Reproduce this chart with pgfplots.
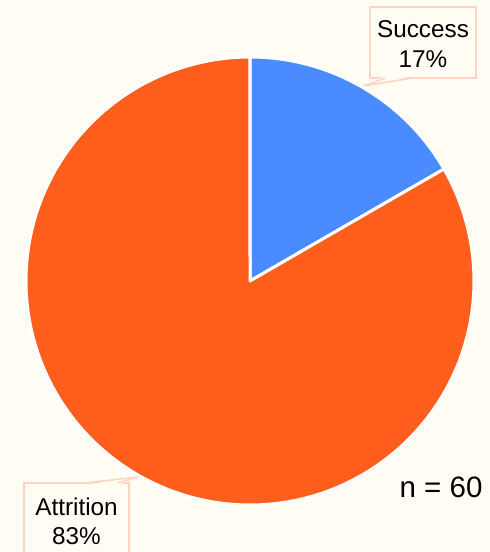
\documentclass[border=0pt]{standalone}
\usepackage{pgfplots}
\pgfplotsset{compat=1.18}
\usepackage{fontspec}
\setmainfont{Liberation Sans}
\definecolor{bg}{HTML}{FFFDF4}
\definecolor{sblue}{HTML}{4A8CFF}
\definecolor{sorange}{HTML}{FF5E1C}
\definecolor{boxc}{HTML}{FFD4C2}
% counts
\def\nSuccess{10}
\def\nAttrition{50}
\def\nTotal{60}
\begin{document}
\begin{tikzpicture}
\pgfmathsetmacro{\aS}{90-\nSuccess/\nTotal*360}
\pgfmathsetmacro{\aA}{\aS-\nAttrition/\nTotal*360}
\begin{axis}[
  scale only axis, width=490pt, height=552pt,
  xmin=0, xmax=490, ymin=0, ymax=552,
  hide axis, clip=true,
]
\fill[bg] (axis cs:0,0) rectangle (axis cs:490,552);
% slices
\addplot[fill=sblue, draw=white, line width=3pt, line join=round, domain=\aS:90, samples=80]
  ({250+224*cos(x)},{271+224*sin(x)}) -- (axis cs:250,271) -- cycle;
\addplot[fill=sorange, draw=white, line width=3pt, line join=round, domain=\aA:\aS, samples=200]
  ({250+224*cos(x)},{271+224*sin(x)}) -- (axis cs:250,271) -- cycle;
% Success callout
\draw[boxc, line width=1.5pt, fill=bg] (axis cs:370,474) rectangle (axis cs:476,545);
\fill[bg] (axis cs:386,476) -- (axis cs:363,466) -- (axis cs:413,476) -- cycle;
\draw[boxc, line width=1.5pt] (axis cs:386,474) -- (axis cs:363,466) -- (axis cs:413,474);
\node[anchor=base, font=\fontsize{24.3}{28}\selectfont] at (axis cs:423,514) {Success};
\node[anchor=base, font=\fontsize{24.3}{28}\selectfont] at (axis cs:423,484) {17\%};
% Attrition callout
\draw[boxc, line width=1.5pt, fill=bg] (axis cs:24,-10) rectangle (axis cs:129,69);
\fill[bg] (axis cs:84,67) -- (axis cs:138,75) -- (axis cs:118,67) -- cycle;
\draw[boxc, line width=1.5pt] (axis cs:84,69) -- (axis cs:138,75) -- (axis cs:118,69);
\node[anchor=base, font=\fontsize{24.3}{28}\selectfont] at (axis cs:76.5,36) {Attrition};
\node[anchor=base, font=\fontsize{24.3}{28}\selectfont] at (axis cs:76.5,7) {83\%};
% n
\node[anchor=base east, font=\fontsize{29.5}{34}\selectfont] at (axis cs:486,54) {n = 60};
\end{axis}
\pgfresetboundingbox
\path (current axis.south west) rectangle (current axis.north east);
\end{tikzpicture}
\end{document}
